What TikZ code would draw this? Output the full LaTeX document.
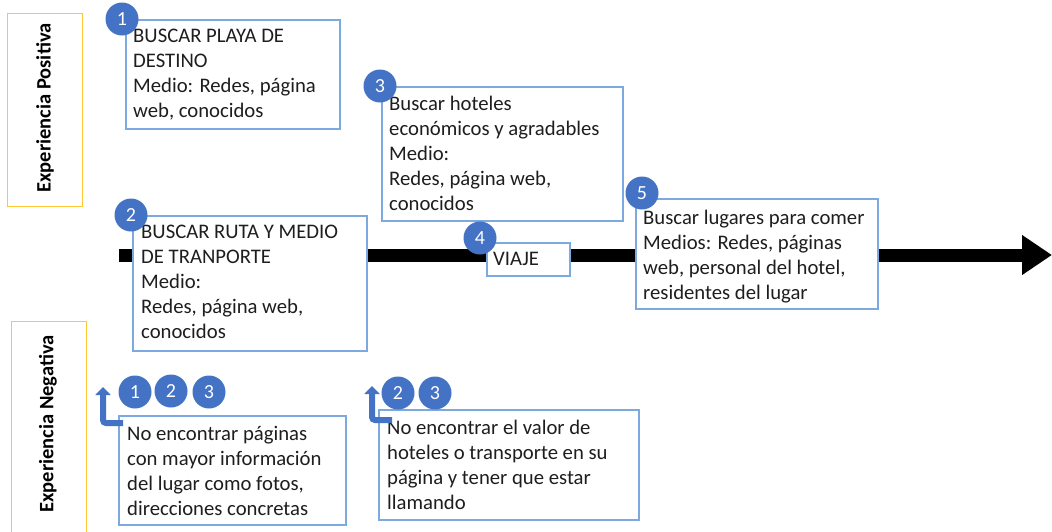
\documentclass[tikz,border=0pt]{standalone}
\usepackage{fontspec}
\setmainfont{Carlito}
\usetikzlibrary{arrows.meta}
\definecolor{boxblue}{RGB}{125,170,222}
\definecolor{circblue}{RGB}{68,114,196}
\definecolor{yel}{RGB}{255,200,50}
\definecolor{txt}{RGB}{30,30,30}
\newcommand{\lns}[1]{\parbox[t]{300pt}{\raggedright #1}}
\begin{document}
\begin{tikzpicture}[x=1pt,y=-1pt,
  card/.style={draw=boxblue,line width=1.5pt,fill=white,anchor=north west,inner sep=0pt},
  ybox/.style={draw=yel,line width=1.2pt,anchor=north west,inner sep=0pt},
  lbl/.style={anchor=base west,inner sep=0pt,text=txt,font=\fontsize{20.7}{25}\selectfont},
  side/.style={rotate=90,inner sep=0pt,text=black,font=\bfseries\fontsize{20.5}{22}\selectfont},
  num/.style={circle,fill=circblue,minimum size=33pt,inner sep=0pt,text=white,font=\fontsize{20}{22}\selectfont},
  timeline/.style={line width=13pt,-{Triangle[length=30pt,width=38pt]}},
  bent/.style={draw=circblue,line width=6pt,rounded corners=3pt,-{Triangle[length=8pt,width=15pt]},color=circblue}]
\useasboundingbox (0,0) rectangle (1052,531);
\clip (0,0) rectangle (1052,531);
\fill[white] (0,0) rectangle (1052,531);

% side labels
\node[ybox,minimum width=75pt,minimum height=193pt] (ypos) at (7,13) {};
\node[side] (lpos) at (45,108) {Experiencia Positiva};
\node[ybox,minimum width=75pt,minimum height=230pt] (yneg) at (11,321) {};
\node[side] (lneg) at (48,424) {Experiencia Negativa};

% timeline
\coordinate (ts) at (119,255);
\coordinate (te) at (1052,255);
\draw[timeline] (ts) -- (te);

% box 1
\node[card,minimum width=214pt,minimum height=109pt] (b1) at (125,19) {};
\node[lbl] (t1) at (133,42) {\lns{BUSCAR PLAYA DE\\DESTINO\\Medio: Redes, página\\web, conocidos}};
\node[num] (c1) at (122,19) {1};

% box 2
\node[card,minimum width=234pt,minimum height=135pt] (b2) at (132,215) {};
\node[lbl] (t2) at (141,238) {\lns{BUSCAR RUTA Y MEDIO\\DE TRANPORTE\\Medio:\\Redes, página web,\\conocidos}};
\node[num] (c2) at (131,215) {2};

% box 3
\node[card,minimum width=241pt,minimum height=134pt] (b3) at (381,86) {};
\node[lbl] (t3) at (389,110) {\lns{Buscar hoteles\\económicos y agradables\\Medio:\\Redes, página web,\\conocidos}};
\node[num] (c3) at (380,86) {3};

% box 4
\node[card,minimum width=83pt,minimum height=33pt] (b4) at (486,242) {};
\node[lbl] (t4) at (493,265) {\lns{VIAJE}};
\node[num] (c4) at (480,238) {4};

% box 5
\node[card,minimum width=242pt,minimum height=110pt] (b5) at (635,198) {};
\node[lbl] (t5) at (643,224) {\lns{Buscar lugares para comer\\Medios: Redes, páginas\\web, personal del hotel,\\residentes del lugar}};
\node[num] (c5) at (642,193) {5};

% negative A
\node[card,minimum width=227pt,minimum height=109pt] (n1) at (118,415) {};
\node[lbl] (tn1) at (127,440) {\lns{No encontrar páginas\\con mayor información\\del lugar como fotos,\\direcciones concretas}};
\node[num] (m1) at (135,392) {1};
\node[num] (m2) at (171,391) {2};
\node[num] (m3) at (209,392) {3};
\coordinate (a1s) at (123,423);
\coordinate (a1e) at (103,387);
\draw[bent] (a1s) -| (a1e);

% negative B
\node[card,minimum width=260pt,minimum height=110pt] (n2) at (378,409) {};
\node[lbl] (tn2) at (387,434) {\lns{No encontrar el valor de\\hoteles o transporte en su\\página y tener que estar\\llamando}};
\node[num] (m4) at (398,393) {2};
\node[num] (m5) at (435,393) {3};
\coordinate (a2s) at (392,420);
\coordinate (a2e) at (372,386);
\draw[bent] (a2s) -| (a2e);
\end{tikzpicture}
\end{document}
